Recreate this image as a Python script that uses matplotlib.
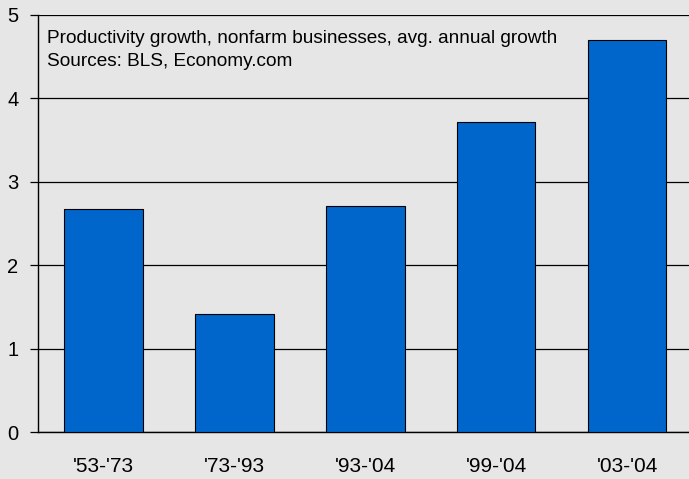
import numpy as np
from matplotlib import pyplot as plt

periods = ["'53-'73", "'73-'93", "'93-'04", "'99-'04", "'03-'04"]
growth = [2.67, 1.41, 2.71, 3.72, 4.70]

plt.rcParams['font.family'] = ['Liberation Sans', 'DejaVu Sans']

bg = '#e6e6e6'
fig = plt.figure(figsize=(6.89, 4.79), dpi=100, facecolor=bg)
ax = fig.add_axes([0.0552, 0.098, 0.95, 0.871])
ax.set_facecolor(bg)

x = np.arange(len(periods))
ax.bar(x, growth, width=0.6, color='#0066cc', edgecolor='black', linewidth=0.8, zorder=3)

ax.set_xlim(-0.5, 4.5)
ax.set_ylim(0, 5)
ax.set_yticks(range(6))
ax.set_xticks(x)
ax.set_xticklabels(periods)
ax.yaxis.grid(True, color='black', linewidth=0.9, zorder=0)
ax.set_axisbelow(True)

for s in ['top', 'right']:
  ax.spines[s].set_visible(False)
ax.spines['left'].set_linewidth(1.0)
ax.spines['bottom'].set_linewidth(1.0)
ax.tick_params(axis='x', length=0, pad=18, labelsize=15)
ax.tick_params(axis='y', length=6, width=0.9, pad=8, labelsize=14.5)

ax.text(0.013, 0.963, 'Productivity growth, nonfarm businesses, avg. annual growth\nSources: BLS, Economy.com',
        transform=ax.transAxes, va='top', ha='left', fontsize=13.7, linespacing=1.45)

fig.savefig('out.png', dpi=100, facecolor=bg)
